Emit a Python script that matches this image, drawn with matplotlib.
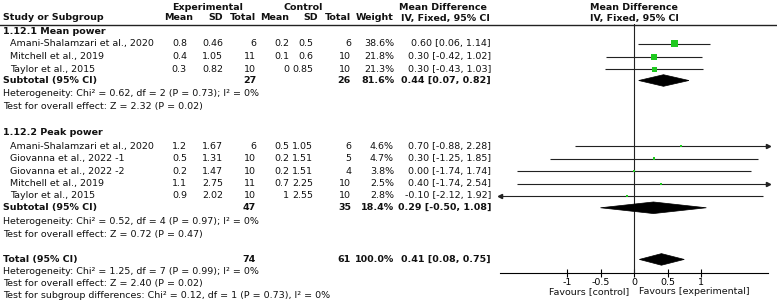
import matplotlib
matplotlib.use("Agg")
import matplotlib.pyplot as plt
from matplotlib.patches import Polygon
import numpy as np

# ---- data ----
studies_mean = ["Amani-Shalamzari et al., 2020", "Mitchell et al., 2019", "Taylor et al., 2015"]
exp_mean_m = [0.8, 0.4, 0.3]
exp_sd_m = [0.46, 1.05, 0.82]
exp_n_m = [6, 11, 10]
ctl_mean_m = [0.2, 0.1, 0]
ctl_sd_m = [0.5, 0.6, 0.85]
ctl_n_m = [6, 10, 10]
weight_m = [38.6, 21.8, 21.3]
md_m = [0.60, 0.30, 0.30]
lo_m = [0.06, -0.42, -0.43]
hi_m = [1.14, 1.02, 1.03]

studies_peak = ["Amani-Shalamzari et al., 2020", "Giovanna et al., 2022 -1", "Giovanna et al., 2022 -2",
                "Mitchell et al., 2019", "Taylor et al., 2015"]
exp_mean_p = [1.2, 0.5, 0.2, 1.1, 0.9]
exp_sd_p = [1.67, 1.31, 1.47, 2.75, 2.02]
exp_n_p = [6, 10, 10, 11, 10]
ctl_mean_p = [0.5, 0.2, 0.2, 0.7, 1]
ctl_sd_p = [1.05, 1.51, 1.51, 2.25, 2.55]
ctl_n_p = [6, 5, 4, 10, 10]
weight_p = [4.6, 4.7, 3.8, 2.5, 2.8]
md_p = [0.70, 0.30, 0.00, 0.40, -0.10]
lo_p = [-0.88, -1.25, -1.74, -1.74, -2.12]
hi_p = [2.28, 1.85, 1.74, 2.54, 1.92]

# subtotal / total: exp n, ctl n, weight, md, lo, hi
sub_m = [27, 26, 81.6, 0.44, 0.07, 0.82]
sub_p = [47, 35, 18.4, 0.29, -0.50, 1.08]
total = [74, 61, 100.0, 0.41, 0.08, 0.75]

het_m = "Heterogeneity: Chi² = 0.62, df = 2 (P = 0.73); I² = 0%"
z_m = "Test for overall effect: Z = 2.32 (P = 0.02)"
het_p = "Heterogeneity: Chi² = 0.52, df = 4 (P = 0.97); I² = 0%"
z_p = "Test for overall effect: Z = 0.72 (P = 0.47)"
het_t = "Heterogeneity: Chi² = 1.25, df = 7 (P = 0.99); I² = 0%"
z_t = "Test for overall effect: Z = 2.40 (P = 0.02)"
sub_diff = "Test for subgroup differences: Chi² = 0.12, df = 1 (P = 0.73), I² = 0%"

xticks = [-1, -0.5, 0, 0.5, 1]
xticklabels = ["-1", "-0.5", "0", "0.5", "1"]

# ---- layout (pixels, rows) ----
W, H = 777, 307
Y0, STEP = 32, 12.6          # pixel of row 0 and row height
def row(px):
    return (px - Y0) / STEP

FS = 6.8
SQ_COL = "#1ec81e"
plt.rcParams["font.family"] = ["DejaVu Sans"]

fig = plt.figure(figsize=(W / 100, H / 100), dpi=100)
ax = fig.add_axes([0, 0, 1, 1])
ax.set_xlim(0, W)
ax.set_ylim(row(H), row(0))
ax.axis("off")

# forest panel: x from -2 to 2 between pixels 500 and 768, y from header line to axis line
fx0, fx1, fy0, fy1 = 500, 768, 24, 273
axf = fig.add_axes([fx0 / W, 1 - fy1 / H, (fx1 - fx0) / W, (fy1 - fy0) / H])
axf.set_xlim(-2, 2)
axf.set_ylim(row(fy1), row(fy0))
axf.patch.set_alpha(0)
for s in ["left", "right", "top"]:
    axf.spines[s].set_visible(False)
axf.spines["bottom"].set_linewidth(0.8)
axf.set_yticks([])
axf.set_xticks(xticks)
axf.set_xticklabels(xticklabels, fontsize=FS)
axf.tick_params(axis="x", direction="inout", length=6, width=0.8, pad=0.5)

# columns: right edges
c_name = 3
c_em, c_es, c_en = 187, 223, 256
c_cm, c_cs, c_cn = 289, 313, 351
c_w, c_ci = 394, 491

def t(x, y, s, ha="right", bold=False):
    ax.text(x, y, s, ha=ha, va="center", fontsize=FS,
            fontweight="bold" if bold else "normal", color="#111111")

def ci_text(m, l, h):
    return "%.2f [%.2f, %.2f]" % (m, l, h)

# headers
t(208, row(7), "Experimental", ha="center", bold=True)
t(303, row(7), "Control", ha="center", bold=True)
t(443, row(7), "Mean Difference", ha="center", bold=True)
t(634, row(7), "Mean Difference", ha="center", bold=True)
t(c_name, row(18), "Study or Subgroup", ha="left", bold=True)
t(193, row(18), "Mean", bold=True)
t(c_es, row(18), "SD", bold=True)
t(c_en, row(18), "Total", bold=True)
t(c_cm, row(18), "Mean", bold=True)
t(c_cs + 5, row(18), "SD", bold=True)
t(c_cn, row(18), "Total", bold=True)
t(c_w, row(18), "Weight", bold=True)
t(445, row(18), "IV, Fixed, 95% CI", ha="center", bold=True)
t(634, row(18), "IV, Fixed, 95% CI", ha="center", bold=True)
ax.axhline(row(24.5), color="#222222", lw=1)

axf.axvline(0, color="#222222", lw=0.8)


def study_rows(rows, names, em, es, en, cm, cs, cn, w, md, lo, hi):
    for r, nm, a, b, c, d, e, f, g, m, l, h in zip(rows, names, em, es, en, cm, cs, cn, w, md, lo, hi):
        t(c_name + 7, r, nm, ha="left")
        t(c_em, r, "%g" % a)
        t(c_es, r, "%g" % b)
        t(c_en, r, "%d" % c)
        t(c_cm, r, "%g" % d)
        t(c_cs, r, "%g" % e)
        t(c_cn, r, "%d" % f)
        t(c_w, r, "%.1f%%" % g)
        t(c_ci, r, ci_text(m, l, h))
        # CI line, clipped at the panel edge with an arrow head
        x0, x1 = max(l, -2), min(h, 2)
        axf.plot([x0, x1], [r, r], color="#222222", lw=0.8, solid_capstyle="butt")
        if h > 2:
            axf.plot([2], [r], marker=">", ms=3, color="#222222", clip_on=False)
        if l < -2:
            axf.plot([-2], [r], marker="<", ms=3, color="#222222", clip_on=False)
    axf.scatter(md, rows, marker="s", s=np.array(w) * 0.65, color=SQ_COL, zorder=3, linewidths=0)


def summary_row(r, label, vals):
    t(c_name, r, label, ha="left", bold=True)
    t(c_en, r, "%d" % vals[0], bold=True)
    t(c_cn, r, "%d" % vals[1], bold=True)
    t(c_w, r, "%.1f%%" % vals[2], bold=True)
    t(c_ci, r, ci_text(vals[3], vals[4], vals[5]), bold=True)
    m, l, h = vals[3], vals[4], vals[5]
    dh = 0.46
    axf.add_patch(Polygon([(l, r), (m, r - dh), (h, r), (m, r + dh)],
                          closed=True, facecolor="black", edgecolor="black", lw=0.5, zorder=4))


# subgroup 1
t(c_name, 0, "1.12.1 Mean power", ha="left", bold=True)
study_rows([0.95, 1.98, 2.95], studies_mean, exp_mean_m, exp_sd_m, exp_n_m,
           ctl_mean_m, ctl_sd_m, ctl_n_m, weight_m, md_m, lo_m, hi_m)
summary_row(3.85, "Subtotal (95% CI)", sub_m)
t(c_name, 4.9, het_m, ha="left")
t(c_name, 5.88, z_m, ha="left")

# subgroup 2
t(c_name, 7.95, "1.12.2 Peak power", ha="left", bold=True)
study_rows([9.05, 10.05, 11.05, 12.05, 13.0], studies_peak, exp_mean_p, exp_sd_p, exp_n_p,
           ctl_mean_p, ctl_sd_p, ctl_n_p, weight_p, md_p, lo_p, hi_p)
summary_row(13.95, "Subtotal (95% CI)", sub_p)
t(c_name, 15.05, het_p, ha="left")
t(c_name, 16.05, z_p, ha="left")

# total
summary_row(18.05, "Total (95% CI)", total)
t(c_name, 19.0, het_t, ha="left")
t(c_name, 19.95, z_t, ha="left")
t(c_name, 20.9, sub_diff, ha="left")

t(629, row(292), "Favours [control]", ha="right")
t(639, row(292), "Favours [experimental]", ha="left")

fig.savefig("out.png", dpi=100)
